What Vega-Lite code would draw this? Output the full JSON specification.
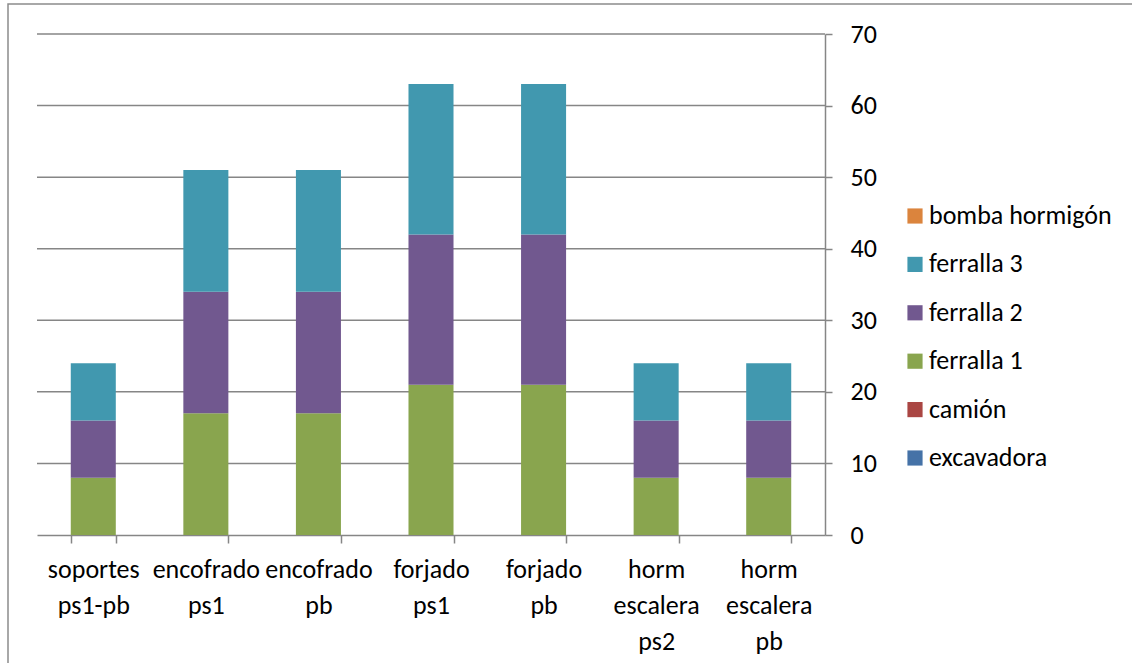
{
  "$schema": "https://vega.github.io/schema/vega-lite/v6.json",
  "width": 1140,
  "height": 670,
  "autosize": {"type": "none"},
  "padding": {"left": 8, "top": 4, "right": -16, "bottom": -11},
  "background": "white",
  "config": {
    "font": "Carlito, Lato, sans-serif",
    "view": {"stroke": "#8c8c8c", "strokeWidth": 1.5},
    "axis": {
      "labelFont": "Carlito, Lato, sans-serif",
      "labelFontSize": 26,
      "labelColor": "#000000",
      "domainColor": "#868686",
      "domainWidth": 1.5,
      "tickColor": "#868686",
      "tickWidth": 1.5,
      "title": null
    },
    "legend": {
      "labelFont": "Carlito, Lato, sans-serif",
      "labelFontSize": 26,
      "labelColor": "#000000",
      "labelLimit": 400
    }
  },
  "layer": [
    {
      "data": {
        "values": [
          {"nivel": 10}, {"nivel": 20}, {"nivel": 30}, {"nivel": 40},
          {"nivel": 50}, {"nivel": 60}, {"nivel": 70}
        ]
      },
      "mark": {"type": "rule", "color": "#868686", "strokeWidth": 1.5},
      "encoding": {
        "y": {
          "field": "nivel",
          "type": "quantitative",
          "scale": {"domain": [0, 70], "range": [531, 30], "nice": false},
          "axis": {
            "orient": "right",
            "offset": -323,
            "values": [0, 10, 20, 30, 40, 50, 60, 70],
            "tickSize": 7,
            "labelPadding": 18,
            "labelAlign": "left",
            "grid": false
          }
        },
        "x": {
          "datum": 0,
          "type": "quantitative",
          "scale": {"domain": [0, 1], "range": [29, 817]},
          "axis": null
        },
        "x2": {"datum": 1}
      }
    },
    {
      "data": {
        "values": [
          {"tarea": "soportes ps1-pb", "serie": "excavadora", "orden": 1, "valor": 0},
          {"tarea": "soportes ps1-pb", "serie": "camión", "orden": 2, "valor": 0},
          {"tarea": "soportes ps1-pb", "serie": "ferralla 1", "orden": 3, "valor": 8},
          {"tarea": "soportes ps1-pb", "serie": "ferralla 2", "orden": 4, "valor": 8},
          {"tarea": "soportes ps1-pb", "serie": "ferralla 3", "orden": 5, "valor": 8},
          {"tarea": "soportes ps1-pb", "serie": "bomba hormigón", "orden": 6, "valor": 0},
          {"tarea": "encofrado ps1", "serie": "excavadora", "orden": 1, "valor": 0},
          {"tarea": "encofrado ps1", "serie": "camión", "orden": 2, "valor": 0},
          {"tarea": "encofrado ps1", "serie": "ferralla 1", "orden": 3, "valor": 17},
          {"tarea": "encofrado ps1", "serie": "ferralla 2", "orden": 4, "valor": 17},
          {"tarea": "encofrado ps1", "serie": "ferralla 3", "orden": 5, "valor": 17},
          {"tarea": "encofrado ps1", "serie": "bomba hormigón", "orden": 6, "valor": 0},
          {"tarea": "encofrado pb", "serie": "excavadora", "orden": 1, "valor": 0},
          {"tarea": "encofrado pb", "serie": "camión", "orden": 2, "valor": 0},
          {"tarea": "encofrado pb", "serie": "ferralla 1", "orden": 3, "valor": 17},
          {"tarea": "encofrado pb", "serie": "ferralla 2", "orden": 4, "valor": 17},
          {"tarea": "encofrado pb", "serie": "ferralla 3", "orden": 5, "valor": 17},
          {"tarea": "encofrado pb", "serie": "bomba hormigón", "orden": 6, "valor": 0},
          {"tarea": "forjado ps1", "serie": "excavadora", "orden": 1, "valor": 0},
          {"tarea": "forjado ps1", "serie": "camión", "orden": 2, "valor": 0},
          {"tarea": "forjado ps1", "serie": "ferralla 1", "orden": 3, "valor": 21},
          {"tarea": "forjado ps1", "serie": "ferralla 2", "orden": 4, "valor": 21},
          {"tarea": "forjado ps1", "serie": "ferralla 3", "orden": 5, "valor": 21},
          {"tarea": "forjado ps1", "serie": "bomba hormigón", "orden": 6, "valor": 0},
          {"tarea": "forjado pb", "serie": "excavadora", "orden": 1, "valor": 0},
          {"tarea": "forjado pb", "serie": "camión", "orden": 2, "valor": 0},
          {"tarea": "forjado pb", "serie": "ferralla 1", "orden": 3, "valor": 21},
          {"tarea": "forjado pb", "serie": "ferralla 2", "orden": 4, "valor": 21},
          {"tarea": "forjado pb", "serie": "ferralla 3", "orden": 5, "valor": 21},
          {"tarea": "forjado pb", "serie": "bomba hormigón", "orden": 6, "valor": 0},
          {"tarea": "horm escalera ps2", "serie": "excavadora", "orden": 1, "valor": 0},
          {"tarea": "horm escalera ps2", "serie": "camión", "orden": 2, "valor": 0},
          {"tarea": "horm escalera ps2", "serie": "ferralla 1", "orden": 3, "valor": 8},
          {"tarea": "horm escalera ps2", "serie": "ferralla 2", "orden": 4, "valor": 8},
          {"tarea": "horm escalera ps2", "serie": "ferralla 3", "orden": 5, "valor": 8},
          {"tarea": "horm escalera ps2", "serie": "bomba hormigón", "orden": 6, "valor": 0},
          {"tarea": "horm escalera pb", "serie": "excavadora", "orden": 1, "valor": 0},
          {"tarea": "horm escalera pb", "serie": "camión", "orden": 2, "valor": 0},
          {"tarea": "horm escalera pb", "serie": "ferralla 1", "orden": 3, "valor": 8},
          {"tarea": "horm escalera pb", "serie": "ferralla 2", "orden": 4, "valor": 8},
          {"tarea": "horm escalera pb", "serie": "ferralla 3", "orden": 5, "valor": 8},
          {"tarea": "horm escalera pb", "serie": "bomba hormigón", "orden": 6, "valor": 0}
        ]
      },
      "mark": {"type": "bar", "stroke": null},
      "encoding": {
        "x": {
          "field": "tarea",
          "type": "nominal",
          "sort": null,
          "scale": {"range": [29, 817], "paddingInner": 0.6, "paddingOuter": 0.3},
          "axis": {
            "orient": "bottom",
            "offset": -139,
            "labelAngle": 0,
            "labelExpr": "split(datum.label, ' ')",
            "labelLineHeight": 36,
            "labelPadding": 13,
            "labelBaseline": "top",
            "labelOverlap": false,
            "tickBand": "extent",
            "tickSize": 8,
            "grid": false,
            "labelLimit": 300
          }
        },
        "y": {
          "field": "valor",
          "type": "quantitative",
          "stack": "zero",
          "scale": {"domain": [0, 70], "range": [531, 30], "nice": false},
          "axis": {
            "orient": "right",
            "offset": -323,
            "values": [0, 10, 20, 30, 40, 50, 60, 70],
            "tickSize": 7,
            "labelPadding": 18,
            "labelAlign": "left",
            "grid": false
          }
        },
        "color": {
          "field": "serie",
          "type": "nominal",
          "scale": {
            "domain": ["bomba hormigón", "ferralla 3", "ferralla 2", "ferralla 1", "camión", "excavadora"],
            "range": ["#DB843D", "#4198AF", "#71588F", "#89A54E", "#AA4643", "#4572A7"]
          },
          "legend": {
            "orient": "none",
            "legendX": 894,
            "legendY": 199,
            "title": null,
            "padding": 0,
            "symbolType": "square",
            "symbolSize": 230,
            "symbolStrokeWidth": 0,
            "labelOffset": 1,
            "rowPadding": 22.4
          }
        },
        "order": {"field": "orden", "type": "quantitative", "sort": "ascending"}
      }
    }
  ],
  "resolve": {"scale": {"x": "independent"}}
}
